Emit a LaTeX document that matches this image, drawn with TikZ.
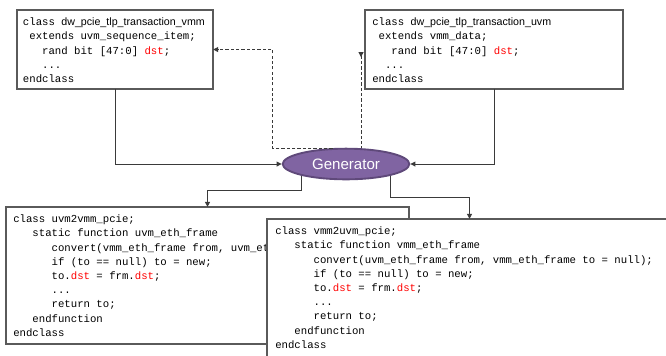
\documentclass[tikz,border=0pt]{standalone}
\usepackage{fontspec}
\setmainfont{Liberation Sans}
\setmonofont{Liberation Mono}
\usetikzlibrary{arrows.meta,shapes.geometric}

\definecolor{boxline}{HTML}{5A5A5A}
\definecolor{wirecol}{HTML}{3A3A3A}
\definecolor{genfill}{HTML}{8064A2}
\definecolor{genline}{HTML}{5F497A}
\definecolor{hl}{HTML}{FF0000}

% one character cell of the 8pt monospaced font
\newdimen\cw \cw=4.8pt
\newcommand\ind[1]{\hspace*{#1\cw}}
\newcommand\hd[1]{\textcolor{hl}{#1}}
\newcommand\sans[1]{{\rmfamily #1}}
\newcommand\firstline{\rule{0pt}{8pt}}

\begin{document}
\begin{tikzpicture}[x=0.75pt,y=-0.75pt,
  codebox/.style={draw=boxline, line width=0.9pt, fill=white, rectangle,
    inner sep=0pt, outer sep=0pt, anchor=north west},
  code/.style={anchor=north west, inner sep=0pt, align=left,
    font=\fontsize{8}{10.65}\selectfont\ttfamily},
  wire/.style={draw=wirecol, line width=0.75pt},
  dashwire/.style={wire, dash pattern=on 2.4pt off 1.6pt},
  tip/.style={-{Triangle[length=3.8pt,width=3.6pt]}},
  rtip/.style={{Triangle[length=3.8pt,width=3.6pt,reversed]}-},
  gennode/.style={ellipse, fill=genfill, draw=genline, line width=1.4pt,
    minimum width=95pt, minimum height=23pt, inner sep=0pt, text=white,
    font=\fontsize{11.3}{13}\selectfont}]

\useasboundingbox (0,0) rectangle (666,355);
\clip (0,0) rectangle (666,355);
\fill[white] (0,0) rectangle (666,355);

% upper class boxes
\node[codebox, minimum width=147pt, minimum height=59.25pt] (b1) at (17,10) {};
\node[code] (t1) at (22.7,14.8) {\firstline class \sans{dw\_pcie\_tlp\_transaction\_vmm}\\
\ind{1}extends uvm\_sequence\_item;\\
\ind{3}rand bit [47:0] \hd{dst};\\
\ind{3}...\\
endclass};

\node[codebox, minimum width=193.5pt, minimum height=59.25pt] (b2) at (365,10) {};
\node[code] (t2) at (372,14.8) {\firstline class \sans{dw\_pcie\_tlp\_transaction\_uvm}\\
\ind{1}extends vmm\_data;\\
\ind{3}rand bit [47:0] \hd{dst};\\
\ind{2}...\\
endclass};

% generator
\node[gennode] (gen) at (346,164) {Generator};

% converter classes (the second one overlaps the first)
\node[codebox, minimum width=302.25pt, minimum height=102.75pt] (b3) at (6,207) {};
\node[code] (t3) at (13,211.8) {\firstline class uvm2vmm\_pcie;\\
\ind{3}static function uvm\_eth\_frame\\
\ind{6}convert(vmm\_eth\_frame from, uvm\_eth\_frame to = null);\\
\ind{6}if (to == null) to = new;\\
\ind{6}to.\hd{dst} = frm.\hd{dst};\\
\ind{6}...\\
\ind{6}return to;\\
\ind{3}endfunction\\
endclass};

\node[codebox, minimum width=303.75pt, minimum height=120pt] (b4) at (267,219) {};
\node[code] (t4) at (275,223.8) {\firstline class vmm2uvm\_pcie;\\
\ind{3}static function vmm\_eth\_frame\\
\ind{6}convert(uvm\_eth\_frame from, vmm\_eth\_frame to = null);\\
\ind{6}if (to == null) to = new;\\
\ind{6}to.\hd{dst} = frm.\hd{dst};\\
\ind{6}...\\
\ind{6}return to;\\
\ind{3}endfunction\\
endclass};

% connectors
\draw[wire,tip] (b1.south) |- (gen.west);
\draw[wire,tip] (b2.south) |- (gen.east);
\draw[wire,tip] (gen.195) -- ++(0,14.4) -| (b3.north);
\draw[wire,tip] (gen.345) -- ++(0,22) -| (b4.north);

\draw[dashwire,tip] (gen.130) -- ++(-60,0) |- (b1.east);
\coordinate (d2) at ([xshift=-3pt,yshift=-2pt]b2.west);
\draw[dashwire,rtip] (d2) -- (d2 |- gen.46);

\end{tikzpicture}
\end{document}
